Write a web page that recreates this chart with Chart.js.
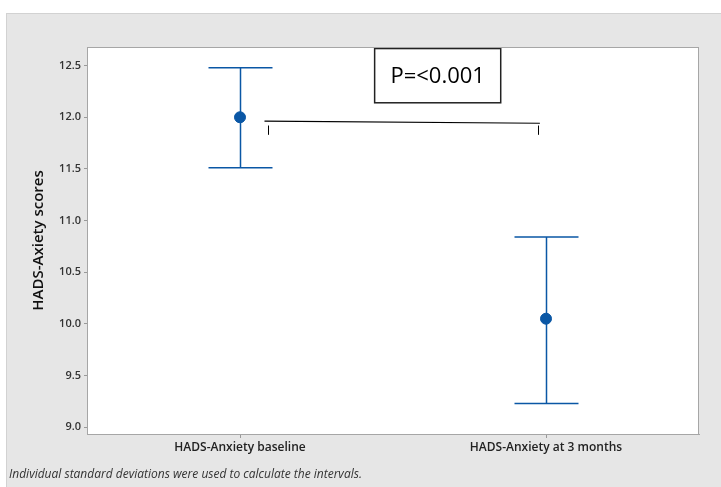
<!DOCTYPE html>
<html>
<head>
<meta charset="utf-8">
<script src="https://cdn.jsdelivr.net/npm/chart.js@4"></script>
<style>
  html, body { margin: 0; padding: 0; background: #fff; }
  #panel {
    position: absolute; left: 6px; top: 13px; width: 715px; height: 474px;
    background: #e6e6e6; border-left: 1px solid #d2d2d2; border-top: 1px solid #d2d2d2;
    box-sizing: border-box;
  }
  #chart { position: absolute; left: -1px; top: -1px; }
  #note {
    position: absolute; left: 2px; top: 451px;
    font: italic 12px "Open Sans", sans-serif; color: #333;
  }
</style>
</head>
<body>
<div id="panel">
  <canvas id="chart" width="715" height="474"></canvas>
  <div id="note">Individual standard deviations were used to calculate the intervals.</div>
</div>
<script>
// groups and interval values
const groups = ['HADS-Anxiety baseline', 'HADS-Anxiety at 3 months'];
const means = [12.0, 10.05];
const lower = [11.51, 9.23];
const upper = [12.48, 10.84];
const yTicks = [9.0, 9.5, 10.0, 10.5, 11.0, 11.5, 12.0, 12.5];

// significance bracket (group index units / score units)
const bracketX = [0.08, 0.98];
const bracketY = [11.962, 11.942];
const bracketTickX = [0.092, 0.974];
const bracketTickY = [11.92, 11.83];
const pLabel = 'P=<0.001';
const pBox = { x0: 0.44, x1: 0.852, y0: 12.665, y1: 12.14 };

const BLUE = '#0a57a5';

const plotFrame = {
  id: 'plotFrame',
  beforeDraw(chart) {
    const { ctx, chartArea: a } = chart;
    ctx.save();
    ctx.fillStyle = '#fff';
    ctx.fillRect(a.left, a.top, a.right - a.left, a.bottom - a.top);
    ctx.restore();
  },
  afterDraw(chart) {
    const { ctx, chartArea: a } = chart;
    ctx.save();
    ctx.strokeStyle = '#a6a6a6';
    ctx.lineWidth = 1;
    ctx.strokeRect(a.left + 0.5, a.top + 0.5, a.right - a.left - 1, a.bottom - a.top);
    ctx.restore();
  }
};

const intervals = {
  id: 'intervals',
  beforeDatasetsDraw(chart) {
    const { ctx, scales: { x, y } } = chart;
    const capHalf = 32;
    ctx.save();
    ctx.strokeStyle = BLUE;
    ctx.lineWidth = 1.5;
    groups.forEach((g, i) => {
      const px = Math.round(x.getPixelForValue(i)) + 0.5;
      const top = y.getPixelForValue(upper[i]);
      const bot = y.getPixelForValue(lower[i]);
      ctx.beginPath();
      ctx.moveTo(px, top); ctx.lineTo(px, bot);
      ctx.moveTo(px - capHalf, top); ctx.lineTo(px + capHalf, top);
      ctx.moveTo(px - capHalf, bot); ctx.lineTo(px + capHalf, bot);
      ctx.stroke();
    });
    ctx.restore();
  },
  afterDatasetsDraw(chart) {
    const { ctx, scales: { x, y } } = chart;
    ctx.save();
    // bracket
    ctx.strokeStyle = '#000';
    ctx.lineWidth = 1.2;
    ctx.beginPath();
    ctx.moveTo(x.getPixelForValue(bracketX[0]), y.getPixelForValue(bracketY[0]));
    ctx.lineTo(x.getPixelForValue(bracketX[1]), y.getPixelForValue(bracketY[1]));
    ctx.stroke();
    ctx.lineWidth = 1;
    bracketTickX.forEach((bx) => {
      const px = Math.round(x.getPixelForValue(bx)) + 0.5;
      ctx.beginPath();
      ctx.moveTo(px, y.getPixelForValue(bracketTickY[0]));
      ctx.lineTo(px, y.getPixelForValue(bracketTickY[1]));
      ctx.stroke();
    });
    // p-value box
    const bx0 = x.getPixelForValue(pBox.x0), bx1 = x.getPixelForValue(pBox.x1);
    const by0 = y.getPixelForValue(pBox.y0), by1 = y.getPixelForValue(pBox.y1);
    ctx.fillStyle = '#fff';
    ctx.fillRect(bx0, by0, bx1 - bx0, by1 - by0);
    ctx.strokeStyle = '#222';
    ctx.lineWidth = 1.5;
    ctx.strokeRect(bx0, by0, bx1 - bx0, by1 - by0);
    ctx.fillStyle = '#000';
    ctx.font = '22px "Open Sans", sans-serif';
    ctx.textAlign = 'center';
    ctx.textBaseline = 'middle';
    ctx.fillText(pLabel, (bx0 + bx1) / 2, (by0 + by1) / 2 + 1);
    ctx.restore();
  }
};

new Chart(document.getElementById('chart'), {
  type: 'scatter',
  data: {
    datasets: [{
      data: means.map((m, i) => ({ x: i, y: m })),
      backgroundColor: BLUE,
      borderColor: BLUE,
      pointRadius: 5.5,
      pointHoverRadius: 5.5,
    }],
  },
  options: {
    responsive: false,
    animation: false,
    layout: { padding: { left: 0, top: 34, right: 22, bottom: 0 } },
    plugins: { legend: { display: false }, tooltip: { enabled: false } },
    scales: {
      x: {
        type: 'linear',
        min: -0.5,
        max: 1.5,
        afterBuildTicks: (s) => { s.ticks = groups.map((g, i) => ({ value: i })); },
        afterFit: (s) => { s.height = 53; },
        ticks: {
          callback: (v) => groups[v],
          color: '#222',
          padding: 2,
          maxRotation: 0,
          font: { family: '"Open Sans", sans-serif', size: 12, weight: '600' },
        },
        grid: { drawOnChartArea: false, tickLength: 4, color: '#999' },
        border: { color: '#a6a6a6' },
      },
      y: {
        min: 8.934,
        max: 12.68,
        afterBuildTicks: (s) => { s.ticks = yTicks.map((v) => ({ value: v })); },
        afterFit: (s) => { s.width = 81; },
        title: {
          display: true,
          text: 'HADS-Axiety scores',
          color: '#111',
          padding: { top: 24, bottom: 0 },
          font: { family: '"Open Sans", sans-serif', size: 15, weight: '600' },
        },
        ticks: {
          callback: (v) => v.toFixed(1),
          color: '#333',
          padding: 3,
          font: { family: '"Open Sans", sans-serif', size: 11, weight: '600' },
        },
        grid: { drawOnChartArea: false, tickLength: 3, color: '#999' },
        border: { color: '#a6a6a6' },
      },
    },
  },
  plugins: [plotFrame, intervals],
});
</script>
</body>
</html>
